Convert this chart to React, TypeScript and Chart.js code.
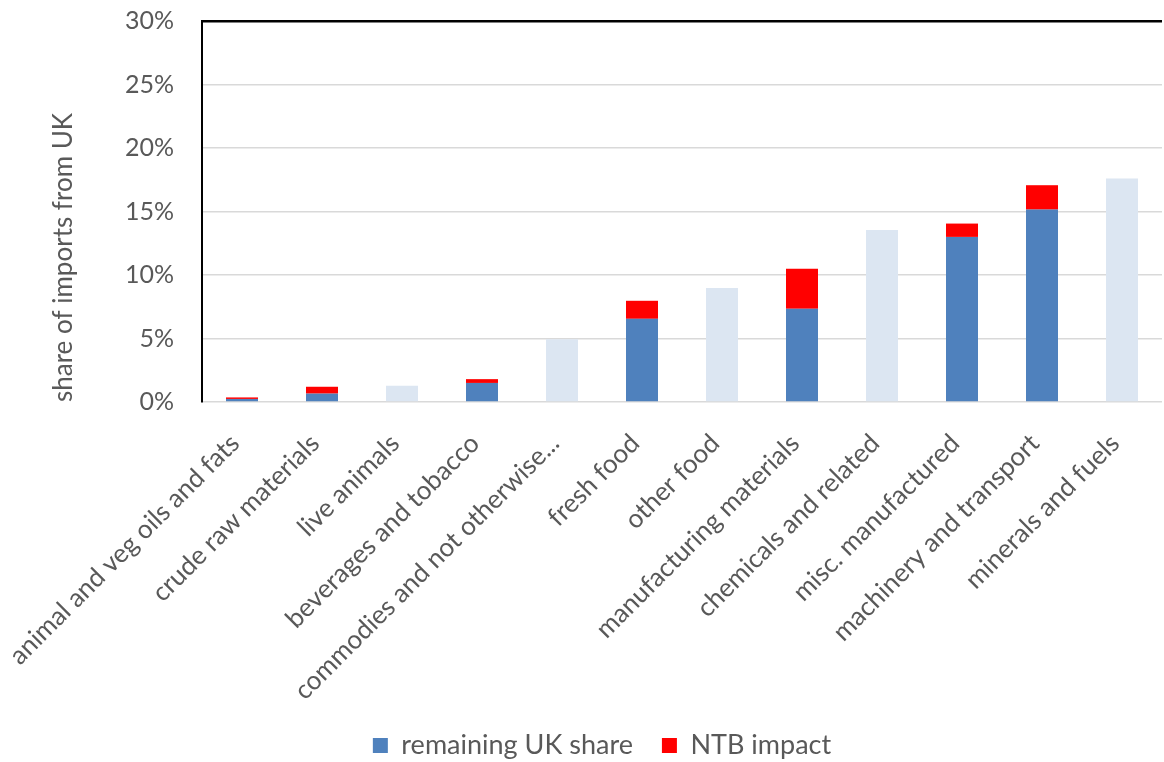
import { useEffect, useRef } from "react";
import { Chart, registerables } from "chart.js";

Chart.register(...registerables);

// Product groups, ordered by total UK share
const categories = [
  "animal and veg oils and fats",
  "crude raw materials",
  "live animals",
  "beverages and tobacco",
  "commodies and not otherwise...",
  "fresh food",
  "other food",
  "manufacturing materials",
  "chemicals and related",
  "misc. manufactured",
  "machinery and transport",
  "minerals and fuels",
];

// Share of imports from the UK, in percent
const remainingShare = [0.24, 0.66, null, 1.5, null, 6.55, null, 7.35, null, 13.0, 15.15, null];
const ntbImpact = [0.12, 0.54, null, 0.3, null, 1.42, null, 3.15, null, 1.05, 1.92, null];
const unaffectedShare = [null, null, 1.28, null, 4.95, null, 8.98, null, 13.55, null, null, 17.6];

const yMin = 0;
const yMax = 30;
const yStep = 5;

const FONT = "Lato, 'Open Sans', sans-serif";
const TEXT = "#595959";

// Nudges the centred legend row a little to the right.
const legendOffset = {
  id: "legendOffset",
  afterLayout(chart: any) {
    if (chart.legend) chart.legend.left += 42;
  },
};

export default function App() {
  const canvasRef = useRef<HTMLCanvasElement | null>(null);

  useEffect(() => {
    if (!canvasRef.current) return;
    const chart = new Chart(canvasRef.current, {
      type: "bar",
      data: {
        labels: categories,
        datasets: [
          {
            label: "remaining UK share",
            data: remainingShare,
            backgroundColor: "#4F81BD",
            borderWidth: 0,
          },
          {
            label: "NTB impact",
            data: ntbImpact,
            backgroundColor: "#FF0000",
            borderWidth: 0,
          },
          {
            label: "unaffected",
            data: unaffectedShare,
            backgroundColor: "#DCE6F2",
            borderWidth: 0,
          },
        ],
      },
      options: {
        animation: false,
        responsive: false,
        maintainAspectRatio: false,
        datasets: {
          bar: { categoryPercentage: 1, barPercentage: 0.4 },
        },
        layout: { padding: { top: 21, right: 2, left: 0, bottom: -7 } },
        scales: {
          x: {
            stacked: true,
            grid: { display: false },
            border: { display: false },
            ticks: {
              autoSkip: false,
              minRotation: 45,
              maxRotation: 45,
              color: TEXT,
              padding: 18,
              labelOffset: -7,
              font: { family: FONT, size: 26 },
            },
            afterFit: (scale: any) => {
              scale.height = 301;
              scale.paddingLeft = 0;
              scale.paddingRight = 0;
            },
          },
          y: {
            stacked: true,
            min: yMin,
            max: yMax,
            ticks: {
              stepSize: yStep,
              color: TEXT,
              padding: 28,
              font: { family: FONT, size: 25 },
              callback: (v: any) => `${v}%`,
            },
            grid: {
              drawTicks: false,
              color: (ctx: any) => (ctx.tick && ctx.tick.value === yMax ? "#000000" : "#d9d9d9"),
              lineWidth: (ctx: any) => (ctx.tick && ctx.tick.value === yMax ? 2.5 : 1.5),
            },
            border: { color: "#000000", width: 2 },
            title: {
              display: true,
              text: "share of imports from UK",
              align: "start",
              color: TEXT,
              font: { family: FONT, size: 26 },
              padding: { top: 48, bottom: 0 },
            },
            afterFit: (scale: any) => {
              scale.width = 202;
              scale.paddingTop = 0;
              scale.paddingBottom = 0;
            },
          },
        },
        plugins: {
          legend: {
            position: "bottom",
            labels: {
              filter: (item: any) => item.datasetIndex < 2,
              boxWidth: 15,
              boxHeight: 15,
              color: TEXT,
              padding: 29,
              font: { family: FONT, size: 27 },
            },
          },
          tooltip: { enabled: false },
        },
      },
      plugins: [legendOffset],
    } as any);
    return () => chart.destroy();
  }, []);

  return (
    <div style={{ position: "absolute", left: 0, top: 0, width: 1164, height: 762, background: "#fff" }}>
      <canvas ref={canvasRef} width={1164} height={762} style={{ width: 1164, height: 762 }} />
    </div>
  );
}
